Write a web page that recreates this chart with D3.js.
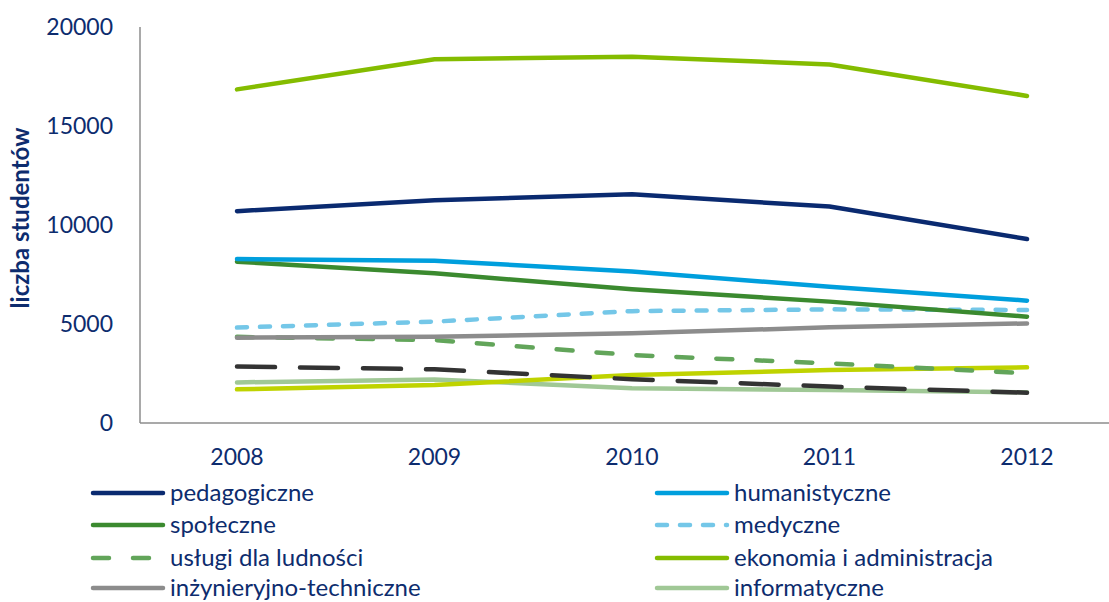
<!DOCTYPE html>
<head>
<meta charset="utf-8">
<title>liczba studentów</title>
<style>
    body { margin:0; background:#fff; }
    svg { display:block; }
    text { font-family: Lato, "Open Sans", sans-serif; fill:#0d2c6e; }
</style>
</head>
<body>
<svg width="1109" height="602"></svg>

<script src="https://cdnjs.cloudflare.com/ajax/libs/d3/7.8.5/d3.min.js"></script>
<script>
var years = ["2008", "2009", "2010", "2011", "2012"];
var yTicks = [0, 5000, 10000, 15000, 20000];

var pedagogiczne    = [10700, 11250, 11550, 10930, 9290];
var humanistyczne   = [8280, 8200, 7650, 6880, 6180];
var spoleczne       = [8150, 7560, 6750, 6130, 5370];
var medyczne        = [4820, 5120, 5650, 5740, 5710];
var uslugi          = [4350, 4190, 3430, 3010, 2510];
var ekonomia        = [16850, 18370, 18500, 18110, 16520];
var inzynieryjne    = [4310, 4360, 4530, 4830, 5030];
var informatyczne   = [2050, 2200, 1750, 1670, 1550];
var ciemne          = [2850, 2710, 2210, 1840, 1530];   // legenda ucięta na obrazku
var zolte           = [1700, 1920, 2420, 2680, 2810];   // legenda ucięta na obrazku

var series = [
  {name:"pedagogiczne", v:pedagogiczne, c:"#0a2a70", dash:null, col:0, row:0},
  {name:"humanistyczne", v:humanistyczne, c:"#009fdd", dash:null, col:1, row:0},
  {name:"społeczne", v:spoleczne, c:"#3b8a2f", dash:null, col:0, row:1},
  {name:"medyczne", v:medyczne, c:"#74c7e8", dash:"10,13", col:1, row:1},
  {name:"usługi dla ludności", v:uslugi, c:"#62a55a", dash:"16,24", col:0, row:2},
  {name:"ekonomia i administracja", v:ekonomia, c:"#84bc00", dash:null, col:1, row:2},
  {name:"inżynieryjno-techniczne", v:inzynieryjne, c:"#8c8c8c", dash:null, col:0, row:3},
  {name:"informatyczne", v:informatyczne, c:"#a0c896", dash:null, col:1, row:3},
  {name:"", v:ciemne, c:"#333333", dash:"38,25"},
  {name:"", v:zolte, c:"#bfd300", dash:null}
];
// kolejność rysowania (od spodu)
var drawOrder = [7, 9, 8, 4, 6, 3, 2, 1, 0, 5];

var svg = d3.select("svg");
var x0 = 140, x1 = 1109, yTop = 27, yBot = 423;

var x = d3.scalePoint().domain(years).range([237, 1027]);
var y = d3.scaleLinear().domain([0, 20000]).range([yBot, yTop]);

// osie
svg.append("line").attr("x1", x0).attr("x2", x0).attr("y1", yTop).attr("y2", yBot)
   .attr("stroke", "#8c8c8c").attr("stroke-width", 1.5);
svg.append("line").attr("x1", x0).attr("x2", x1).attr("y1", yBot).attr("y2", yBot)
   .attr("stroke", "#8c8c8c").attr("stroke-width", 1.5);

svg.selectAll(".ytick").data(yTicks).enter().append("text")
   .attr("x", 113).attr("y", function(d){ return y(d); })
   .attr("dy", "0.35em").attr("text-anchor", "end")
   .style("font-size", "23px").text(function(d){ return d; });

svg.selectAll(".xtick").data(years).enter().append("text")
   .attr("x", function(d){ return x(d); }).attr("y", 465)
   .attr("text-anchor", "middle")
   .style("font-size", "23px").text(function(d){ return d; });

svg.append("text")
   .attr("transform", "translate(29, 218) rotate(-90)")
   .attr("text-anchor", "middle")
   .style("font-size", "24px").style("font-weight", "bold")
   .text("liczba studentów");

var line = d3.line()
   .x(function(d, i){ return x(years[i]); })
   .y(function(d){ return y(d); });

drawOrder.forEach(function(k){
  var s = series[k];
  svg.append("path")
     .attr("d", line(s.v))
     .attr("fill", "none")
     .attr("stroke", s.c)
     .attr("stroke-width", 4.5)
     .attr("stroke-linecap", "round")
     .attr("stroke-linejoin", "round")
     .attr("stroke-dasharray", s.dash);
});

// legenda
var legX = [93, 657], legY = [493, 525, 558, 588];
series.filter(function(s){ return s.name; }).forEach(function(s){
  var g = svg.append("g").attr("transform", "translate(" + legX[s.col] + "," + legY[s.row] + ")");
  g.append("line").attr("x1", 0).attr("x2", 70).attr("y1", 0).attr("y2", 0)
   .attr("stroke", s.c).attr("stroke-width", 4.5)
   .attr("stroke-linecap", "round").attr("stroke-dasharray", s.dash);
  g.append("text").attr("x", 77).attr("y", 0).attr("dy", "0.35em")
   .style("font-size", "24px").text(s.name);
});
</script>
</body>
